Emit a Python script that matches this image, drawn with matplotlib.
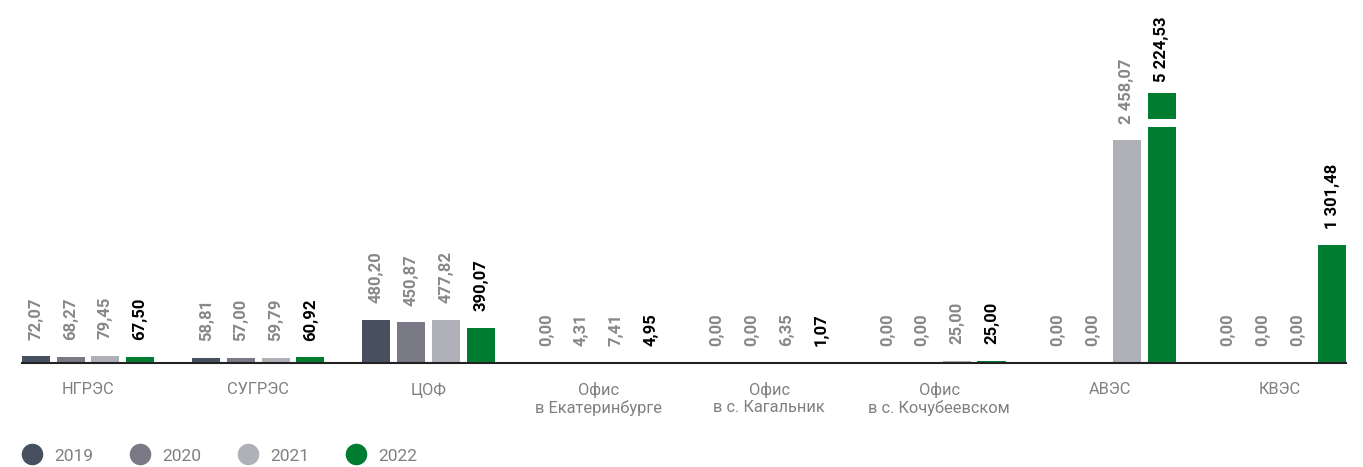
import matplotlib.pyplot as plt
from matplotlib.lines import Line2D

# Sites and yearly values
sites = ['НГРЭС', 'СУГРЭС', 'ЦОФ', 'Офис\nв Екатеринбурге', 'Офис\nв с. Кагальник',
         'Офис\nв с. Кочубеевском', 'АВЭС', 'КВЭС']
years = ['2019', '2020', '2021', '2022']
v2019 = [72.07, 58.81, 480.20, 0.00, 0.00, 0.00, 0.00, 0.00]
v2020 = [68.27, 57.00, 450.87, 4.31, 0.00, 0.00, 0.00, 0.00]
v2021 = [79.45, 59.79, 477.82, 7.41, 6.35, 25.00, 2458.07, 0.00]
v2022 = [67.50, 60.92, 390.07, 4.95, 1.07, 25.00, 5224.53, 1301.48]

colors = ['#46505f', '#7a7a86', '#b0b0b8', '#007c30']
label_colors = ['#888888', '#888888', '#888888', '#000000']

# tall bars are cut at this height and drawn with a white break
bar_cap = 2985
break_lo, break_hi = 2610, 2695

plt.rcParams['font.family'] = ['Roboto', 'DejaVu Sans']

fig = plt.figure(figsize=(13.63, 4.67), dpi=100)
ax = fig.add_axes([0.0161, 0.2227, 0.9714, 0.7773])

step = 0.204
width = 0.165


def fmt(v):
    s = '{:,.2f}'.format(v)
    return s.replace(',', ' ').replace('.', ',')


for i, vals in enumerate([v2019, v2020, v2021, v2022]):
    xs = [g + (i - 1.5) * step for g in range(len(sites))]
    shown = [min(v, bar_cap) for v in vals]
    ax.bar(xs, shown, width=width, color=colors[i], zorder=2)
    for x, v, h in zip(xs, vals, shown):
        off = 12
        if v > bar_cap:
            ax.bar(x, break_hi - break_lo, bottom=break_lo, width=width * 1.2,
                   color='white', zorder=3)
            off = 8
        ax.annotate(fmt(v), (x, h), xytext=(0, off), textcoords='offset points',
                    rotation=90, ha='center', va='bottom', fontsize=12,
                    fontweight='bold', color=label_colors[i])

ax.set_xlim(-0.388, 7.388)
ax.set_ylim(0, 4010)
ax.set_xticks(range(len(sites)))
ax.set_xticklabels(sites, fontsize=11.8, color='#808080', linespacing=1.12)
ax.tick_params(axis='x', length=0, pad=14)
ax.set_yticks([])
for s in ['top', 'right', 'left']:
    ax.spines[s].set_visible(False)
ax.spines['bottom'].set_color('#222222')
ax.spines['bottom'].set_linewidth(1.5)

handles = [Line2D([], [], marker='o', linestyle='', markersize=14.5,
                  markerfacecolor=c, markeredgecolor=c) for c in colors]
fig.legend(handles, years, loc='center left', bbox_to_anchor=(0.0057, 0.0236),
           ncol=4, frameon=False, fontsize=12.5, labelcolor='#808080',
           handlelength=1.0, handletextpad=0.77, columnspacing=2.2)

fig.savefig('out.png', dpi=100)
